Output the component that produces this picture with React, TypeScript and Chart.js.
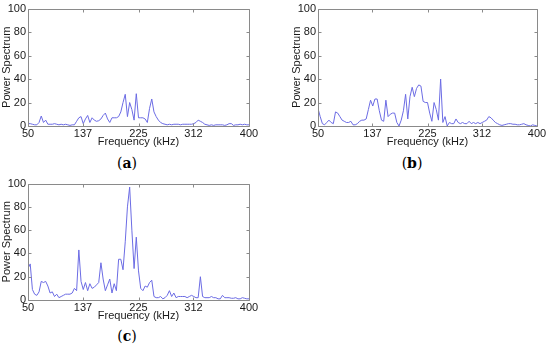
import React, { useEffect, useRef } from 'react';
import { Chart, registerables } from 'chart.js';

Chart.register(...registerables);

const X_TICKS = [50, 137, 225, 312, 400];
const Y_TICKS = [0, 20, 40, 60, 80, 100];
const FREQ_START = 50;
const FREQ_STEP = 3.5;

const SERIES_A = [
  2, 2, 1.5, 1, 1, 3, 8.5, 3, 5, 1.5,
  1.5, 1.5, 2, 1.5, 1, 1.5, 1, 1.5, 1, 0.5,
  1, 1, 4, 7, 8, 2, 6, 9, 3, 7,
  5, 4, 4.5, 6, 9, 11, 6, 3, 7, 7,
  7, 8, 12, 20, 27, 8, 20, 14, 5, 27.5,
  7, 7, 7, 6, 3, 15, 23, 12, 8, 5,
  3, 2, 1.5, 1, 1.5, 1, 1.5, 1.5, 1.5, 1,
  1.5, 1.5, 1.5, 1.5, 1.5, 2, 3, 5, 4, 3,
  1.5, 1, 0.5, 1, 0.5, 1, 1, 1, 1, 0.5,
  1, 2, 2, 0.5, 1, 1, 1.5, 1, 1.5, 1,
  1,
];

const SERIES_B = [
  15, 8, 2, 1, 3, 5, 3, 2, 12, 11,
  8, 5, 4, 3, 3, 4, 1, 1, 2, 4,
  5, 5, 6, 14, 22, 17, 23, 23, 13, 5,
  4, 22, 8, 10, 11, 11, 3, 0, 5, 13,
  27, 6, 25, 33, 25, 32, 35, 34, 21, 20,
  20, 11, 4, 20, 14, 5, 40, 3, 8, 0,
  3, 2, 2, 6, 3, 2, 3, 2, 2, 4,
  2, 3, 2, 3, 2, 3, 4, 5, 8, 7,
  5, 3, 2, 1, 0.5, 1, 1.5, 2, 2, 1.5,
  1.5, 1, 1, 1.5, 2, 1, 0.5, 0, 1, 0.5,
  0,
];

const SERIES_C = [
  27, 31, 9, 5, 4, 7, 16, 15, 16, 12,
  6, 7, 3, 5, 2, 3, 4, 5, 5, 5,
  6, 10, 8, 43, 16, 9, 15, 8, 14, 10,
  11, 13, 15, 32, 18, 8, 13, 18, 6, 14,
  8, 35, 35, 26, 50, 80, 97, 60, 27, 54,
  25, 10, 8, 12, 11, 15, 17, 3, 2, 2,
  3, 1, 2, 4, 8, 3, 6, 2, 3, 3,
  3, 3, 2, 3, 4, 3, 2, 2, 20, 3,
  2, 2, 2, 3, 2, 2, 1, 1, 4, 2,
  2, 2, 1.5, 1.5, 2, 1, 1, 2, 1.5, 1,
  1,
];

const LINE_COLOR = '#6c6ce4';
const BOX_COLOR = '#8a8a8a';
const TEXT_COLOR = '#1a1a1a';
const FONT = '"Liberation Sans", Arial, sans-serif';

const boxPlugin = {
  id: 'matlabBox',
  afterDraw(chart: any) {
    const { ctx, chartArea } = chart;
    const { left, top, right, bottom } = chartArea;
    const xs = chart.scales.x;
    const ys = chart.scales.y;
    const L = Math.round(left) + 0.5;
    const T = Math.round(top) + 0.5;
    const R = Math.round(right) + 0.5;
    const B = Math.round(bottom) + 0.5;
    ctx.save();
    ctx.strokeStyle = BOX_COLOR;
    ctx.lineWidth = 1;
    ctx.beginPath();
    ctx.rect(L, T, R - L, B - T);
    const len = 3;
    X_TICKS.forEach((v) => {
      const px = Math.round(xs.getPixelForValue(v)) + 0.5;
      ctx.moveTo(px, B);
      ctx.lineTo(px, B - len);
      ctx.moveTo(px, T);
      ctx.lineTo(px, T + len);
    });
    Y_TICKS.forEach((v) => {
      const py = Math.round(ys.getPixelForValue(v)) + 0.5;
      ctx.moveTo(L, py);
      ctx.lineTo(L + len, py);
      ctx.moveTo(R, py);
      ctx.lineTo(R - len, py);
    });
    ctx.stroke();
    ctx.restore();
  },
};

type PanelProps = {
  series: number[];
  left: number;
  top: number;
  width: number;
  height: number;
  padTop: number;
  padRight: number;
};

function Panel({ series, left, top, width, height, padTop, padRight }: PanelProps) {
  const ref = useRef<HTMLCanvasElement | null>(null);
  useEffect(() => {
    if (!ref.current) return;
    const points = series.map((v, i) => ({ x: FREQ_START + i * FREQ_STEP, y: v }));
    const chart = new Chart(ref.current, {
      type: 'line',
      data: {
        datasets: [
          {
            data: points,
            borderColor: LINE_COLOR,
            borderWidth: 1,
            pointRadius: 0,
            tension: 0,
            fill: false,
          },
        ],
      },
      options: {
        animation: false,
        responsive: false,
        devicePixelRatio: 1,
        layout: { padding: { top: padTop, right: padRight, left: 0, bottom: 0 } },
        plugins: { legend: { display: false }, tooltip: { enabled: false } },
        scales: {
          x: {
            type: 'linear',
            min: 50,
            max: 400,
            grid: { display: false, drawTicks: false },
            border: { display: false },
            afterBuildTicks: (scale: any) => {
              scale.ticks = X_TICKS.map((v) => ({ value: v }));
            },
            afterFit: (scale: any) => {
              scale.height = 24;
            },
            ticks: {
              autoSkip: false,
              maxRotation: 0,
              padding: 1,
              color: TEXT_COLOR,
              font: { family: FONT, size: 11 },
              callback: (v: any) => String(v),
            },
            title: {
              display: true,
              text: 'Frequency (kHz)',
              color: TEXT_COLOR,
              font: { family: FONT, size: 11 },
              padding: { top: 0, bottom: 1 },
            },
          },
          y: {
            type: 'linear',
            min: 0,
            max: 100,
            grid: { display: false, drawTicks: false },
            border: { display: false },
            afterBuildTicks: (scale: any) => {
              scale.ticks = Y_TICKS.map((v) => ({ value: v }));
            },
            afterFit: (scale: any) => {
              scale.width = 28;
            },
            ticks: {
              padding: 2,
              color: TEXT_COLOR,
              font: { family: FONT, size: 11 },
              callback: (v: any) => String(v),
            },
            title: {
              display: true,
              text: 'Power Spectrum',
              color: TEXT_COLOR,
              font: { family: FONT, size: 11 },
              padding: { top: 0, bottom: 0 },
            },
          },
        },
      },
      plugins: [boxPlugin],
    } as any);
    return () => chart.destroy();
  }, [series]);
  return (
    <canvas
      ref={ref}
      width={width}
      height={height}
      style={{ position: 'absolute', left, top, width, height }}
    />
  );
}

const PANELS = [
  { key: 'a', series: SERIES_A, left: 0, top: 0, width: 275, height: 150, padTop: 7, padRight: 26, capX: 127, capY: 163 },
  { key: 'b', series: SERIES_B, left: 290, top: 0, width: 260, height: 150, padTop: 7, padRight: 13, capX: 412, capY: 163 },
  { key: 'c', series: SERIES_C, left: 0, top: 175, width: 275, height: 149, padTop: 7, padRight: 26, capX: 127, capY: 336 },
];

export default function App() {
  return (
    <div
      style={{
        position: 'absolute',
        left: 0,
        top: 0,
        width: 550,
        height: 346,
        background: '#ffffff',
        overflow: 'hidden',
      }}
    >
      {PANELS.map((p) => (
        <React.Fragment key={p.key}>
          <Panel
            series={p.series}
            left={p.left}
            top={p.top}
            width={p.width}
            height={p.height}
            padTop={p.padTop}
            padRight={p.padRight}
          />
          <div
            style={{
              position: 'absolute',
              left: p.capX,
              top: p.capY,
              transform: 'translate(-50%, -50%)',
              fontFamily: '"DejaVu Serif", serif',
              fontSize: 14,
              lineHeight: 1,
              color: '#000',
              whiteSpace: 'nowrap',
            }}
          >
            (<b>{p.key}</b>)
          </div>
        </React.Fragment>
      ))}
    </div>
  );
}
